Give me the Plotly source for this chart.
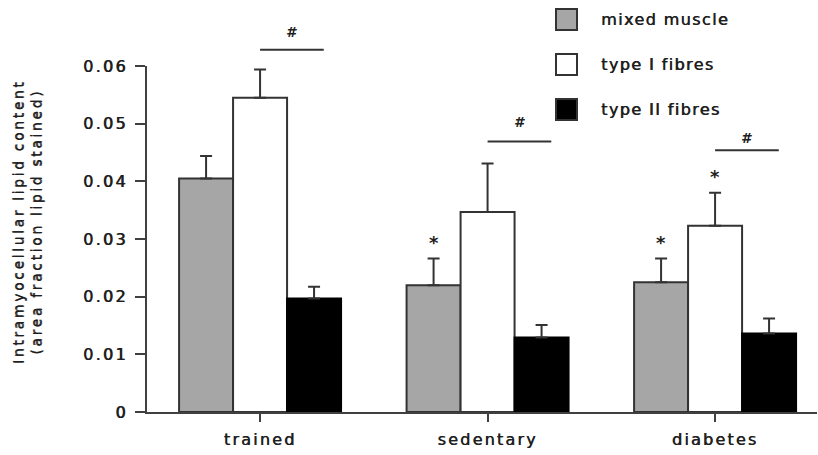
import plotly.graph_objects as go

# Groups and series
groups = ["trained", "sedentary", "diabetes"]
series_names = ["mixed muscle", "type I fibres", "type II fibres"]
mixed_muscle = [0.0405, 0.0220, 0.0225]
type_I = [0.0545, 0.0347, 0.0323]
type_II = [0.0197, 0.0129, 0.0136]
mixed_err = [0.0039, 0.0046, 0.0041]
type_I_err = [0.0049, 0.0084, 0.0057]
type_II_err = [0.0020, 0.0022, 0.0026]

# Significance between type I and type II fibres within each group (#)
sig_line_y = [0.0628, 0.0469, 0.0454]
sig_label_y = [0.0659, 0.0503, 0.0475]
# Bars marked * : (group index, series index)
star_marks = [(1, 0), (2, 0), (2, 1)]

y_ticks = [0, 0.01, 0.02, 0.03, 0.04, 0.05, 0.06]
y_tick_text = ["0", "0.01", "0.02", "0.03", "0.04", "0.05", "0.06"]

FONT = "DejaVu Sans"
INK = "#1f1f1f"
AXIS = "#404040"
# a faint horizontal shadow gives the regular face a slightly heavier stroke
HEAVY = "0.6px 0px 0px #1f1f1f"
fills = ["#a6a6a6", "#ffffff", "#000000"]
edges = ["#333333", "#333333", "#000000"]


def spaced(text, px):
    """Wrap text in a span with extra letter spacing (wide, Verdana-like look)."""
    return '<span style="letter-spacing:%.1fpx">%s</span>' % (px, text)


def label_font(size):
    return dict(size=size, family=FONT, color=INK, shadow=HEAVY)


values = [mixed_muscle, type_I, type_II]
errors = [mixed_err, type_I_err, type_II_err]

x_pos = list(range(len(groups)))
x_range = [-0.497, 2.448]
y_range = [0, 0.06]
bargap = 0.288
bar_w = (1 - bargap) / 3
offsets = [-bar_w, 0.0, bar_w]

fig = go.Figure()
for i, name in enumerate(series_names):
    fig.add_trace(go.Bar(
        x=x_pos, y=values[i], name=name,
        marker=dict(color=fills[i], line=dict(color=edges[i], width=2)),
        error_y=dict(type="data", symmetric=False, array=errors[i],
                     arrayminus=[0] * len(groups), color="#333333",
                     thickness=2, width=6),
        showlegend=False,
    ))

fig.update_layout(
    width=818, height=455,
    margin=dict(l=147, r=1, t=66, b=43),
    paper_bgcolor="white", plot_bgcolor="white",
    barmode="group", bargap=bargap, bargroupgap=0,
    font=dict(family=FONT, color=INK),
    xaxis=dict(range=x_range, tickvals=x_pos,
               ticktext=[spaced(g, 2.2) for g in groups],
               showgrid=False, zeroline=False,
               showline=True, linecolor=AXIS, linewidth=2,
               ticks="outside", ticklen=8, tickwidth=2, tickcolor=AXIS,
               ticklabelstandoff=4,
               tickfont=label_font(16)),
    yaxis=dict(range=y_range, tickvals=y_ticks,
               ticktext=[spaced(t, 2.3) for t in y_tick_text],
               showgrid=False, zeroline=False,
               showline=True, linecolor=AXIS, linewidth=2,
               ticks="outside", ticklen=10, tickwidth=2, tickcolor=AXIS,
               ticklabelstandoff=4,
               tickfont=label_font(16)),
)


def px_x(v):
    return (v - x_range[0]) / (x_range[1] - x_range[0])


def px_y(v):
    return (v - y_range[0]) / (y_range[1] - y_range[0])


# Y-axis title
fig.add_annotation(
    xref="paper", yref="paper", x=-0.178, y=0.549,
    text=spaced("Intramyocellular lipid content", 2.6) + "<br>"
    + spaced("(area fraction lipid stained)", 2.6),
    textangle=-90, showarrow=False, xanchor="center", yanchor="middle",
    font=dict(size=14, family=FONT, color=INK, shadow="0px -0.5px 0px #1f1f1f"),
)

# Significance bars (#) from type I to type II fibres
for g in x_pos:
    x0 = px_x(g + offsets[1])
    x1 = px_x(g + offsets[1] + 0.28)
    fig.add_shape(type="line", xref="paper", yref="paper",
                  x0=x0, x1=x1, y0=px_y(sig_line_y[g]), y1=px_y(sig_line_y[g]),
                  line=dict(color="#333333", width=2))
    fig.add_annotation(xref="paper", yref="paper",
                       x=(x0 + x1) / 2, y=px_y(sig_label_y[g]),
                       text="<i><b>#</b></i>", showarrow=False,
                       xanchor="center", yanchor="middle",
                       font=dict(size=14, family=FONT, color=INK))

# Asterisks above marked bars
for g, s in star_marks:
    top = values[s][g] + errors[s][g]
    fig.add_annotation(x=g + offsets[s], y=top, xref="x", yref="y",
                       text="<b>*</b>", showarrow=False,
                       xanchor="center", yanchor="bottom", yshift=4,
                       font=dict(size=18, family=FONT, color=INK))

# Legend drawn as swatches with labels
legend_top = 9
row_step = 45
sw = 21
for i, name in enumerate(series_names):
    top_px = legend_top + i * row_step
    fig.add_shape(type="rect", xref="paper", yref="paper",
                  x0=(556 - 147) / 670, x1=(556 + sw - 147) / 670,
                  y0=(455 - 43 - top_px) / 346, y1=(455 - 43 - top_px - sw) / 346,
                  fillcolor=fills[i], line=dict(color="#333333", width=2))
    fig.add_annotation(xref="paper", yref="paper",
                       x=(599 - 147) / 670, y=(455 - 43 - top_px - sw / 2) / 346,
                       text=spaced(name, 1.4), showarrow=False,
                       xanchor="left", yanchor="middle",
                       font=label_font(16))

fig.write_html("out.html")
